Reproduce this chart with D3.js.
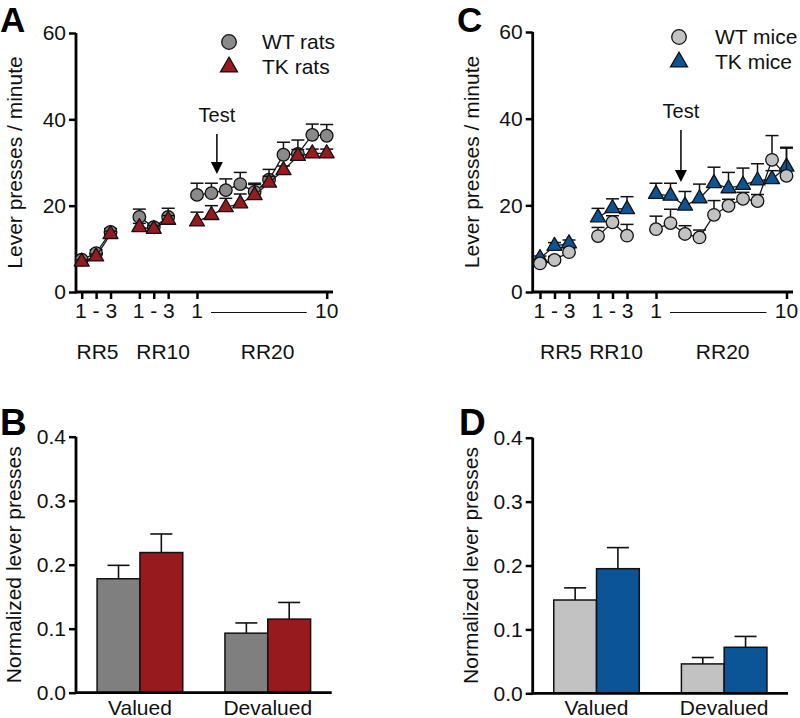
<!DOCTYPE html>
<html>
<head>
<meta charset="utf-8">
<script src="https://cdn.jsdelivr.net/npm/d3@7"></script>
<style>
  html, body { margin: 0; padding: 0; background: #fff; }
  svg { display: block; font-family: "Liberation Sans", Arial, Helvetica, sans-serif; }
</style>
</head>
<body>
<svg id="chart" width="800" height="718"></svg>
<script>
// ---------------- DATA ----------------
// Session positions along the x axis (RR5: 1-3, RR10: 1-3, RR20: 1-10)
const sessionIndex = [0, 1, 2, 4, 5, 6, 8, 9, 10, 11, 12, 13, 14, 15, 16, 17];
const sessionBlock = [0, 0, 0, 1, 1, 1, 2, 2, 2, 2, 2, 2, 2, 2, 2, 2];
const blockNames = ["RR5", "RR10", "RR20"];

// Panel A (rats)
const wtRats    = [7.5, 9.0, 13.9, 17.4, 15.0, 17.4, 22.5, 22.9, 23.6, 25.0, 23.2, 26.0, 31.8, 32.0, 36.4, 36.2];
const wtRatsErr = [0.5, 0.8, 0.8, 1.8, 0.8, 2.0, 2.7, 2.3, 2.6, 2.7, 2.0, 2.4, 2.9, 3.2, 2.5, 2.6];
const tkRats    = [7.0, 8.2, 13.4, 15.0, 14.6, 16.7, 16.3, 17.8, 19.6, 20.5, 22.4, 25.3, 28.2, 31.5, 32.1, 32.1];
const tkRatsErr = [0.5, 0.6, 0.7, 0.9, 0.8, 1.0, 2.2, 2.2, 2.1, 2.2, 2.5, 1.5, 1.0, 1.5, 1.0, 1.0];

// Panel C (mice)
const wtMice    = [6.6, 7.4, 9.2, 12.9, 16.1, 13.0, 14.5, 15.9, 13.4, 12.6, 17.8, 19.9, 21.5, 21.0, 30.5, 26.8];
const wtMiceErr = [0.5, 0.8, 1.0, 2.0, 1.5, 2.6, 3.0, 3.2, 1.9, 1.7, 3.3, 1.5, 1.5, 1.5, 5.6, 6.4];
const tkMice    = [7.8, 10.6, 11.2, 17.2, 19.3, 19.1, 22.6, 22.2, 19.9, 21.6, 25.1, 23.9, 24.7, 25.7, 26.0, 28.9];
const tkMiceErr = [0.5, 0.8, 0.8, 2.1, 2.2, 2.9, 2.5, 2.9, 3.3, 3.3, 3.7, 3.7, 3.9, 3.9, 2.0, 4.5];

const lineYTicks = [0, 20, 40, 60];

// Panels B and D (normalized lever presses)
const barCategories = ["Valued", "Devalued"];
const wtRatsBar     = [0.178, 0.093];
const wtRatsBarErr  = [0.021, 0.016];
const tkRatsBar     = [0.219, 0.115];
const tkRatsBarErr  = [0.029, 0.026];
const wtMiceBar     = [0.146, 0.046];
const wtMiceBarErr  = [0.019, 0.010];
const tkMiceBar     = [0.195, 0.072];
const tkMiceBarErr  = [0.033, 0.017];
const barYTicks = [0, 0.1, 0.2, 0.3, 0.4];

// ---------------- STYLE ----------------
const COL = {
  wtRat: "#8a8a8a", wtRatBar: "#7f7f7f", tkRat: "#961a1e",
  wtMouse: "#c2c2c2", tkMouse: "#0b5596"
};
const FONT = 20;
const svg = d3.select("#chart");

function triPath(size) {
  const h = size * Math.sqrt(3) / 2;
  return `M0,${-h * 2 / 3}L${size / 2},${h / 3}L${-size / 2},${h / 3}Z`;
}

function yAxisDraw(g, y, x0, ticks, fmt, top) {
  const ax = g.append("g").attr("transform", `translate(${x0},0)`)
    .call(d3.axisLeft(y).tickValues(ticks).tickFormat(fmt).tickSize(7).tickPadding(3));
  ax.select(".domain").remove();
  ax.selectAll(".tick line").attr("stroke", "#000").attr("stroke-width", 2.5);
  ax.selectAll(".tick text").attr("font-size", FONT + 1).attr("fill", "#111")
    .attr("font-family", "Liberation Sans, Arial, sans-serif");
  g.append("line").attr("x1", x0).attr("x2", x0).attr("y1", y(0) + 1.25).attr("y2", top)
    .attr("stroke", "#000").attr("stroke-width", 2.8);
}

// ---------------- LINE PANELS ----------------
function linePanel(cfg) {
  const g = svg.append("g");
  const x = d3.scaleLinear().domain([0, 17]).range(cfg.xr);
  const y = d3.scaleLinear().domain([0, 60]).range(cfg.yr);

  // x axis line
  g.append("line").attr("x1", cfg.ax0).attr("x2", cfg.ax1).attr("y1", y(0)).attr("y2", y(0))
    .attr("stroke", "#000").attr("stroke-width", 2.8);
  // x ticks
  const tickIdx = [0, 1, 2, 4, 5, 6, 8, 17];
  const xa = g.append("g").attr("transform", `translate(0,${y(0)})`)
    .call(d3.axisBottom(x).tickValues(tickIdx).tickFormat("").tickSize(7));
  xa.select(".domain").remove();
  xa.selectAll(".tick line").attr("stroke", "#000").attr("stroke-width", 2.5);

  // x tick labels
  const lab = [[1, "1 - 3"], [5, "1 - 3"], [8, "1"], [17, "10"]];
  g.selectAll("text.xl").data(lab).join("text").attr("class", "xl")
    .attr("x", d => x(d[0])).attr("y", y(0) + 26).attr("text-anchor", "middle")
    .attr("font-size", FONT + 1).attr("fill", "#111").text(d => d[1]);
  g.append("line").attr("x1", x(8) + 14).attr("x2", x(17) - 20)
    .attr("y1", y(0) + 20.5).attr("y2", y(0) + 20.5).attr("stroke", "#111").attr("stroke-width", 1.2);

  // block labels
  g.selectAll("text.bl").data(blockNames).join("text").attr("class", "bl")
    .attr("x", (d, i) => x(cfg.blockPos[i])).attr("y", 359).attr("text-anchor", "middle")
    .attr("font-size", FONT + 1).attr("fill", "#111").text(d => d);

  yAxisDraw(g, y, cfg.ax0, lineYTicks, d3.format("d"), y(60));

  // y label
  g.append("text").attr("transform", `translate(${cfg.ylabX},${(y(0) + y(60)) / 2}) rotate(-90)`)
    .attr("text-anchor", "middle").attr("font-size", FONT + 1).attr("fill", "#111")
    .text("Lever presses / minute");

  // panel letter
  g.append("text").attr("x", cfg.letterX).attr("y", 32).attr("font-size", 35)
    .attr("font-weight", "bold").attr("font-family", "Liberation Sans, Arial, sans-serif")
    .text(cfg.letter);

  // series
  function drawSeries(vals, errs, shape, fill) {
    const pts = vals.map((v, i) => ({ i: sessionIndex[i], b: sessionBlock[i], v, e: errs[i] }));
    const sg = g.append("g");
    // connecting lines per block
    d3.range(3).forEach(b => {
      sg.append("path").datum(pts.filter(p => p.b === b))
        .attr("d", d3.line().x(p => x(p.i)).y(p => y(p.v)))
        .attr("fill", "none").attr("stroke", "#1a1a1a").attr("stroke-width", 1.3);
    });
    // error bars (upward)
    sg.selectAll("line.ev").data(pts).join("line").attr("class", "ev")
      .attr("x1", p => x(p.i)).attr("x2", p => x(p.i))
      .attr("y1", p => y(p.v)).attr("y2", p => y(p.v + p.e))
      .attr("stroke", "#111").attr("stroke-width", 1.5);
    sg.selectAll("line.ec").data(pts).join("line").attr("class", "ec")
      .attr("x1", p => x(p.i) - 6.5).attr("x2", p => x(p.i) + 6.5)
      .attr("y1", p => y(p.v + p.e)).attr("y2", p => y(p.v + p.e))
      .attr("stroke", "#111").attr("stroke-width", 1.5);
    // markers
    if (shape === "circle") {
      sg.selectAll("circle").data(pts).join("circle")
        .attr("cx", p => x(p.i)).attr("cy", p => y(p.v)).attr("r", 6.3)
        .attr("fill", fill).attr("stroke", "#111").attr("stroke-width", 1.3);
    } else {
      sg.selectAll("path.tri").data(pts).join("path").attr("class", "tri")
        .attr("transform", p => `translate(${x(p.i)},${y(p.v)})`)
        .attr("d", triPath(15)).attr("fill", fill).attr("stroke", "#111").attr("stroke-width", 1.3)
        .attr("stroke-linejoin", "round");
    }
  }
  cfg.series.forEach(s => drawSeries(s.vals, s.errs, s.shape, s.fill));

  // legend
  const lg = g.append("g");
  lg.append("circle").attr("cx", cfg.legX).attr("cy", cfg.legY).attr("r", 7.3)
    .attr("fill", cfg.wtFill).attr("stroke", "#111").attr("stroke-width", 1.3);
  lg.append("path").attr("transform", `translate(${cfg.legX},${cfg.legY + 25})`)
    .attr("d", triPath(17)).attr("fill", cfg.tkFill).attr("stroke", "#111").attr("stroke-width", 1.3);
  lg.append("text").attr("x", cfg.legTX).attr("y", cfg.legY + 7).attr("font-size", FONT + 1)
    .attr("fill", "#111").text(cfg.wtName);
  lg.append("text").attr("x", cfg.legTX).attr("y", cfg.legY + 32).attr("font-size", FONT + 1)
    .attr("fill", "#111").text(cfg.tkName);

  // Test annotation
  const tx = x(cfg.testPos);
  g.append("text").attr("x", tx).attr("y", cfg.testY).attr("text-anchor", "middle")
    .attr("font-size", FONT).attr("fill", "#111").text("Test");
  g.append("line").attr("x1", tx).attr("x2", tx).attr("y1", cfg.testY + 12).attr("y2", cfg.arrowTip - 8)
    .attr("stroke", "#000").attr("stroke-width", 1.5);
  g.append("path").attr("d", `M${tx - 6},${cfg.arrowTip - 12}L${tx + 6},${cfg.arrowTip - 12}L${tx},${cfg.arrowTip}Z`)
    .attr("fill", "#000");
}

linePanel({
  letter: "A", letterX: 0, xr: [81.7, 326.7], yr: [292, 33], ax0: 76, ax1: 333, ylabX: 22,
  blockPos: [1.1, 5.65, 12.9],
  series: [
    { vals: wtRats, errs: wtRatsErr, shape: "circle", fill: COL.wtRat },
    { vals: tkRats, errs: tkRatsErr, shape: "tri", fill: COL.tkRat }
  ],
  legX: 229, legY: 42, legTX: 262, wtFill: COL.wtRat, tkFill: COL.tkRat,
  wtName: "WT rats", tkName: "TK rats",
  testPos: 9.38, testY: 122, arrowTip: 174
});

linePanel({
  letter: "C", letterX: 457, xr: [540, 786.5], yr: [292, 32], ax0: 532.7, ax1: 793, ylabX: 479,
  blockPos: [1.45, 5.24, 12.6],
  series: [
    { vals: tkMice, errs: tkMiceErr, shape: "tri", fill: COL.tkMouse },
    { vals: wtMice, errs: wtMiceErr, shape: "circle", fill: COL.wtMouse }
  ],
  legX: 679, legY: 37, legTX: 715, wtFill: COL.wtMouse, tkFill: COL.tkMouse,
  wtName: "WT mice", tkName: "TK mice",
  testPos: 9.72, testY: 118, arrowTip: 182
});

// ---------------- BAR PANELS ----------------
function barPanel(cfg) {
  const g = svg.append("g");
  const y = d3.scaleLinear().domain([0, 0.4]).range(cfg.yr);
  const x0 = d3.scaleBand().domain(barCategories).range([cfg.ax0, cfg.ax1])
    .paddingInner(0.33).paddingOuter(0.165);
  const groups = ["WT", "TK"];
  const x1 = d3.scaleBand().domain(groups).range([0, x0.bandwidth()]);

  const rows = [];
  barCategories.forEach((c, ci) => {
    rows.push({ c, gname: "WT", v: cfg.wt[ci], e: cfg.wtErr[ci], fill: cfg.wtFill });
    rows.push({ c, gname: "TK", v: cfg.tk[ci], e: cfg.tkErr[ci], fill: cfg.tkFill });
  });

  // error bars first
  g.selectAll("line.ev").data(rows).join("line").attr("class", "ev")
    .attr("x1", d => x0(d.c) + x1(d.gname) + x1.bandwidth() / 2)
    .attr("x2", d => x0(d.c) + x1(d.gname) + x1.bandwidth() / 2)
    .attr("y1", d => y(d.v)).attr("y2", d => y(d.v + d.e))
    .attr("stroke", "#111").attr("stroke-width", 1.6);
  g.selectAll("line.ec").data(rows).join("line").attr("class", "ec")
    .attr("x1", d => x0(d.c) + x1(d.gname) + x1.bandwidth() / 2 - 11)
    .attr("x2", d => x0(d.c) + x1(d.gname) + x1.bandwidth() / 2 + 11)
    .attr("y1", d => y(d.v + d.e)).attr("y2", d => y(d.v + d.e))
    .attr("stroke", "#111").attr("stroke-width", 1.6);

  g.selectAll("rect").data(rows).join("rect")
    .attr("x", d => x0(d.c) + x1(d.gname)).attr("width", x1.bandwidth())
    .attr("y", d => y(d.v)).attr("height", d => y(0) - y(d.v))
    .attr("fill", d => d.fill).attr("stroke", "#111").attr("stroke-width", 1.5);

  // x axis
  g.append("line").attr("x1", cfg.ax0).attr("x2", cfg.ax1).attr("y1", y(0)).attr("y2", y(0))
    .attr("stroke", "#000").attr("stroke-width", 2.8);
  g.selectAll("text.cat").data(barCategories).join("text").attr("class", "cat")
    .attr("x", d => x0(d) + x0.bandwidth() / 2).attr("y", y(0) + 22).attr("text-anchor", "middle")
    .attr("font-size", FONT + 1).attr("fill", "#111").text(d => d);

  yAxisDraw(g, y, cfg.ax0, barYTicks, d3.format(".1f"), y(0.4));

  g.append("text").attr("transform", `translate(${cfg.ylabX},${(y(0) + y(0.4)) / 2}) rotate(-90)`)
    .attr("text-anchor", "middle").attr("font-size", FONT + 1).attr("fill", "#111")
    .text("Normalized lever presses");

  g.append("text").attr("x", cfg.letterX).attr("y", cfg.letterY).attr("font-size", 37)
    .attr("font-weight", "bold").text(cfg.letter);
}

barPanel({
  letter: "B", letterX: 0, letterY: 435, ax0: 76, ax1: 331.7, yr: [692.7, 436.7], ylabX: 21,
  wt: wtRatsBar, wtErr: wtRatsBarErr, tk: tkRatsBar, tkErr: tkRatsBarErr,
  wtFill: COL.wtRatBar, tkFill: COL.tkRat
});
barPanel({
  letter: "D", letterX: 459, letterY: 435, ax0: 532.7, ax1: 788, yr: [693.3, 437.7], ylabX: 478,
  wt: wtMiceBar, wtErr: wtMiceBarErr, tk: tkMiceBar, tkErr: tkMiceBarErr,
  wtFill: COL.wtMouse, tkFill: COL.tkMouse
});
</script>
</body>
</html>
